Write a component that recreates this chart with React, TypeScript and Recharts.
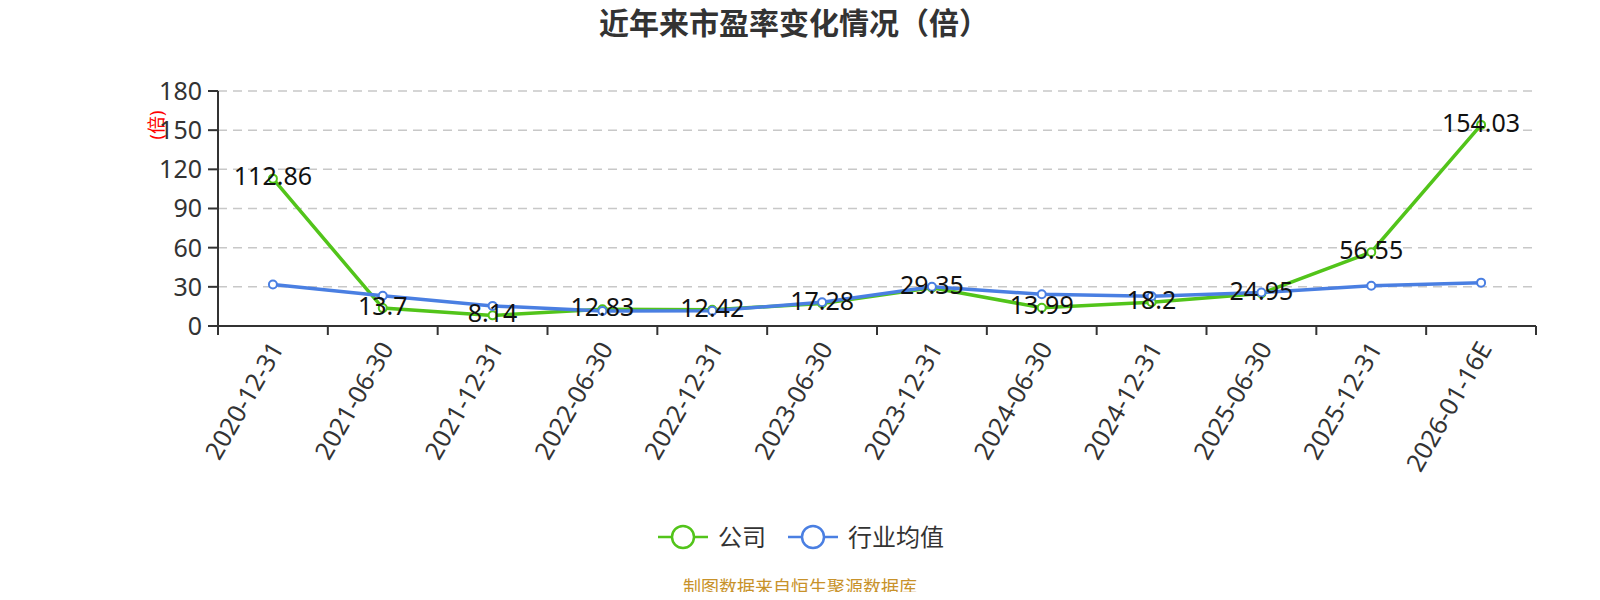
import React from "react";
import { LineChart, Line, XAxis, YAxis, CartesianGrid, Legend, LabelList } from "recharts";

const categories = [
  "2020-12-31",
  "2021-06-30",
  "2021-12-31",
  "2022-06-30",
  "2022-12-31",
  "2023-06-30",
  "2023-12-31",
  "2024-06-30",
  "2024-12-31",
  "2025-06-30",
  "2025-12-31",
  "2026-01-16E",
];
const companyPE = [112.86, 13.7, 8.14, 12.83, 12.42, 17.28, 29.35, 13.99, 18.2, 24.95, 56.55, 154.03];
const industryPE = [31.8, 23.2, 15.4, 11.5, 11.6, 18.2, 30, 24.3, 22.8, 25.6, 30.8, 33.2];
const yTicks = [0, 30, 60, 90, 120, 150, 180];

const GREEN = "#52c41a";
const BLUE = "#4a7fe2";
const FONT = "'Noto Sans', 'Noto Sans CJK SC', sans-serif";

const data = categories.map((name, i) => ({
  name,
  company: companyPE[i],
  industry: industryPE[i],
}));

const XTick = (props: any) => {
  const { x, y, payload, index, width, visibleTicksCount } = props;
  const bw = width / (visibleTicksCount || categories.length);
  const ax = x + 4;
  const ay = y + 18;
  return (
    <g>
      <line x1={x - bw / 2} y1={y} x2={x - bw / 2} y2={y + 9} stroke="#333" strokeWidth={2} />
      {index === categories.length - 1 && (
        <line x1={x + bw / 2} y1={y} x2={x + bw / 2} y2={y + 9} stroke="#333" strokeWidth={2} />
      )}
      <text
        x={ax}
        y={ay}
        transform={`rotate(-60, ${ax}, ${ay})`}
        textAnchor="end"
        dy="0.35em"
        fill="#333"
        fontSize={25}
        fontFamily={FONT}
      >
        {payload.value}
      </text>
    </g>
  );
};

const PointLabel = (props: any) => {
  const { x, y, value } = props;
  return (
    <text x={x} y={y - 2} textAnchor="middle" dy="0.35em" fill="#111" fontSize={25} fontFamily={FONT}>
      {value}
    </text>
  );
};

const UnitLabel = (props: any) => {
  const { viewBox } = props;
  const cx = viewBox.x - 1;
  const cy = viewBox.y + 34;
  return (
    <text
      x={cx}
      y={cy}
      transform={`rotate(-90, ${cx}, ${cy})`}
      textAnchor="middle"
      dy="0.35em"
      fill="#ff0000"
      fontSize={18}
      fontFamily={FONT}
    >
      (倍)
    </text>
  );
};

const legendItems = [
  { label: "公司", color: GREEN },
  { label: "行业均值", color: BLUE },
];

const LegendContent = () => (
  <div style={{ display: "flex", justifyContent: "center", alignItems: "center", fontFamily: FONT, paddingLeft: 24 }}>
    {legendItems.map((it) => (
      <div key={it.label} style={{ display: "flex", alignItems: "center", marginRight: 22 }}>
        <svg width={50} height={28}>
          <line x1={0} y1={14} x2={50} y2={14} stroke={it.color} strokeWidth={2.5} />
          <circle cx={25} cy={14} r={11} fill="#fff" stroke={it.color} strokeWidth={2.5} />
        </svg>
        <span style={{ marginLeft: 10, fontSize: 24, color: "#333", lineHeight: "28px" }}>{it.label}</span>
      </div>
    ))}
  </div>
);

export default function App() {
  return (
    <div style={{ position: "relative", width: 1584, height: 584, fontFamily: FONT }}>
      <div
        style={{
          position: "absolute",
          top: 0,
          left: 0,
          width: 1572,
          textAlign: "center",
          fontSize: 30,
          lineHeight: "30px",
          fontWeight: "bold",
          color: "#333",
        }}
      >
        近年来市盈率变化情况（倍）
      </div>
      <LineChart
        width={1584}
        height={584}
        data={data}
        margin={{ top: 83, right: 56, left: 150, bottom: 116 }}
      >
        <CartesianGrid vertical={false} stroke="#c8c8c8" strokeWidth={1.5} strokeDasharray="9 6" />
        <XAxis
          dataKey="name"
          scale="band"
          height={150}
          interval={0}
          axisLine={{ stroke: "#333", strokeWidth: 2 }}
          tickLine={false}
          tickSize={0}
          tickMargin={0}
          tick={<XTick />}
        />
        <YAxis
          width={60}
          domain={[0, 180]}
          ticks={yTicks}
          interval={0}
          axisLine={{ stroke: "#333", strokeWidth: 2 }}
          tickLine={{ stroke: "#333", strokeWidth: 2 }}
          tickSize={10}
          tickMargin={6}
          tick={{ fill: "#333", fontSize: 25, fontFamily: FONT }}
          label={<UnitLabel />}
        />
        <Legend
          verticalAlign="middle"
          align="center"
          layout="horizontal"
          wrapperStyle={{ top: 515, left: 0, width: 1584 }}
          content={<LegendContent />}
        />
        <Line
          type="linear"
          dataKey="company"
          stroke={GREEN}
          strokeWidth={3.5}
          dot={{ r: 4, fill: "#fff", stroke: GREEN, strokeWidth: 2 }}
          activeDot={false}
          isAnimationActive={false}
        />
        <Line
          type="linear"
          dataKey="industry"
          stroke={BLUE}
          strokeWidth={3.5}
          dot={{ r: 4, fill: "#fff", stroke: BLUE, strokeWidth: 2 }}
          activeDot={false}
          isAnimationActive={false}
        />
        <Line
          type="linear"
          dataKey="company"
          stroke="none"
          dot={false}
          activeDot={false}
          legendType="none"
          isAnimationActive={false}
        >
          <LabelList dataKey="company" content={<PointLabel />} />
        </Line>
      </LineChart>
      <div
        style={{
          position: "absolute",
          top: 570,
          left: 0,
          width: 1584,
          textAlign: "center",
          fontSize: 18,
          lineHeight: "18px",
          color: "#c8922a",
        }}
      >
        制图数据来自恒生聚源数据库
      </div>
    </div>
  );
}
